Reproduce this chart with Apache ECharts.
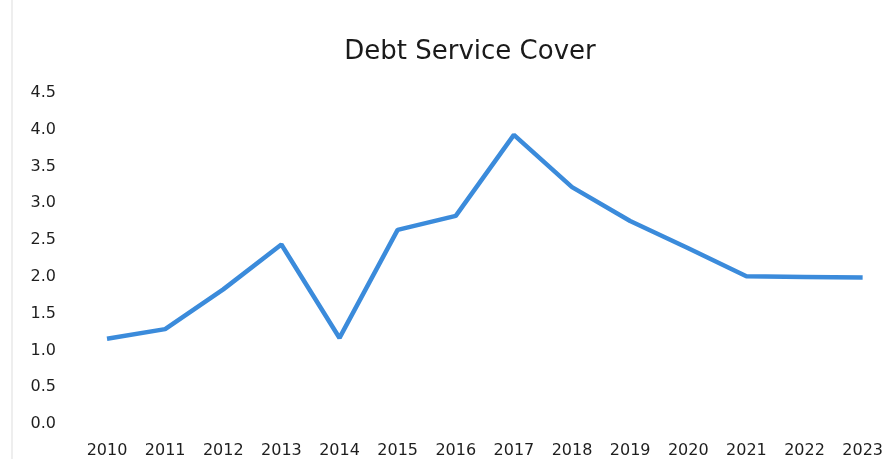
<!DOCTYPE html>
<html>
<head>
<meta charset="utf-8">
<script src="https://cdn.jsdelivr.net/npm/echarts@6/dist/echarts.min.js"></script>
<style>
  html, body { margin: 0; padding: 0; background: #ffffff; }
  #chart { width: 886px; height: 459px; }
</style>
</head>
<body>
<div id="chart"></div>
<script>
const years = ['2010','2011','2012','2013','2014','2015','2016','2017','2018','2019','2020','2021','2022','2023'];
const debtServiceCover = [1.16, 1.29, 1.83, 2.44, 1.17, 2.64, 2.83, 3.93, 3.22, 2.76, 2.39, 2.01, 2.0, 1.99];
const yTicks = { min: 0, max: 4.5, interval: 0.5 };

const labelFont = { fontFamily: 'DejaVu Sans', fontSize: 16, color: '#1e1e1e' };

const chart = echarts.init(document.getElementById('chart'));
chart.setOption({
  animation: false,
  backgroundColor: '#ffffff',
  title: {
    text: 'Debt Service Cover',
    left: 465,
    textAlign: 'center',
    top: 34,
    textStyle: { fontFamily: 'DejaVu Sans', fontSize: 26, fontWeight: 'normal', color: '#1a1a1a' }
  },
  grid: { left: 107, right: 20, top: 93, bottom: 32 },
  xAxis: {
    type: 'category',
    data: years,
    boundaryGap: false,
    axisLine: { show: false },
    axisTick: { show: false },
    axisLabel: Object.assign({ margin: 19 }, labelFont)
  },
  yAxis: {
    type: 'value',
    min: yTicks.min,
    max: yTicks.max,
    interval: yTicks.interval,
    splitLine: { show: false },
    axisLine: { show: false },
    axisTick: { show: false },
    axisLabel: Object.assign({ margin: 51, formatter: v => v.toFixed(1) }, labelFont)
  },
  graphic: [{
    type: 'line',
    shape: { x1: 12, y1: 0, x2: 12, y2: 459 },
    style: { stroke: '#eeeeee', lineWidth: 2 }
  }],
  series: [{
    type: 'line',
    data: debtServiceCover,
    symbol: 'none',
    lineStyle: { color: '#3b8bdb', width: 4.5 }
  }]
});
</script>
</body>
</html>
